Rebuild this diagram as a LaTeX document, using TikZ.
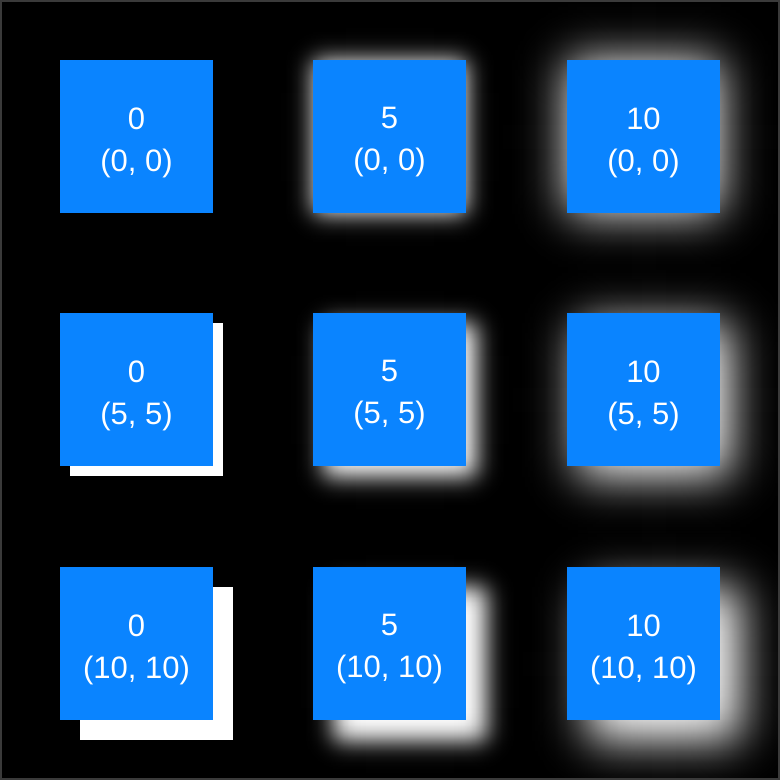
\documentclass[tikz,border=0pt]{standalone}
\usepackage{fontspec}
\usetikzlibrary{fadings}
\setmainfont{Liberation Sans}
\definecolor{sysblue}{HTML}{0A84FF}
\definecolor{framegray}{HTML}{3A3A3A}
% Gaussian CDF levels
\colorlet{ga}{white!0.13!black}
\colorlet{gb}{white!0.62!black}
\colorlet{gc}{white!2.28!black}
\colorlet{gd}{white!6.68!black}
\colorlet{ge}{white!15.87!black}
\colorlet{gf}{white!30.85!black}
\colorlet{gg}{white!50!black}
\colorlet{gh}{white!69.15!black}
\colorlet{gi}{white!84.13!black}
\colorlet{gj}{white!93.32!black}
\colorlet{gk}{white!97.72!black}
\colorlet{gl}{white!99.38!black}
\colorlet{gm}{white!99.87!black}
% blur 10: sigma = 22px
\def\glowspecA{color(0bp)=(black); color(25bp)=(ga); color(26.930bp)=(gb); color(28.860bp)=(gc); color(30.789bp)=(gd); color(32.719bp)=(ge); color(34.649bp)=(gf); color(36.579bp)=(gg); color(38.509bp)=(gh); color(40.439bp)=(gi); color(42.368bp)=(gj); color(44.298bp)=(gk); color(46.228bp)=(gl); color(48.158bp)=(gm); color(50bp)=(white); color(51.842bp)=(gm); color(53.772bp)=(gl); color(55.702bp)=(gk); color(57.632bp)=(gj); color(59.561bp)=(gi); color(61.491bp)=(gh); color(63.421bp)=(gg); color(65.351bp)=(gf); color(67.281bp)=(ge); color(69.211bp)=(gd); color(71.140bp)=(gc); color(73.070bp)=(gb); color(75bp)=(ga); color(100bp)=(black)}
% blur 5: sigma = 11px
\def\glowspecB{color(0bp)=(black); color(25bp)=(ga); color(26.256bp)=(gb); color(27.511bp)=(gc); color(28.767bp)=(gd); color(30.023bp)=(ge); color(31.279bp)=(gf); color(32.534bp)=(gg); color(33.790bp)=(gh); color(35.046bp)=(gi); color(36.301bp)=(gj); color(37.557bp)=(gk); color(38.813bp)=(gl); color(40.068bp)=(gm); color(50bp)=(white); color(59.932bp)=(gm); color(61.187bp)=(gl); color(62.443bp)=(gk); color(63.699bp)=(gj); color(64.954bp)=(gi); color(66.210bp)=(gh); color(67.466bp)=(gg); color(68.721bp)=(gf); color(69.977bp)=(ge); color(71.233bp)=(gd); color(72.489bp)=(gc); color(73.744bp)=(gb); color(75bp)=(ga); color(100bp)=(black)}
\edef\tmp{\noexpand\pgfdeclarehorizontalshading{hglowA}{100bp}{\glowspecA}}\tmp
\edef\tmp{\noexpand\pgfdeclareverticalshading{vglowA}{100bp}{\glowspecA}}\tmp
\edef\tmp{\noexpand\pgfdeclarehorizontalshading{hglowB}{100bp}{\glowspecB}}\tmp
\edef\tmp{\noexpand\pgfdeclareverticalshading{vglowB}{100bp}{\glowspecB}}\tmp
\pgfdeclarefading{fglowA}{\pgfuseshading{vglowA}}
\pgfdeclarefading{fglowB}{\pgfuseshading{vglowB}}
% blurred white shadow: #1 x, #2 y (top-left of box), #3 offset, #4 sigma, #5 A/B
\newcommand\softshadow[5]{%
  \shade[shading=hglow#5, path fading=fglow#5]
    ({#1+#3-3*#4},{#2+#3-3*#4}) rectangle ({#1+#3+153+3*#4},{#2+#3+153+3*#4});
}
\newcommand\hardshadow[3]{%
  \fill[white] ({#1+#3},{#2+#3}) rectangle ({#1+#3+153},{#2+#3+153});
}
\begin{document}
\begin{tikzpicture}[x=1pt,y=-1pt,
  box/.style={fill=sysblue, minimum size=153pt, inner sep=0pt, outer sep=0pt,
    anchor=north west},
  lbl/.style={text=white, align=center, inner sep=0pt,
    font=\fontsize{31}{42}\selectfont}]
\useasboundingbox (0,0) rectangle (780,780);
\clip (0,0) rectangle (780,780);
\fill[black] (0,0) rectangle (780,780);
% shadows
\hardshadow{60}{60}{0}
\softshadow{313}{60}{0}{11}{B}
\softshadow{567}{60}{0}{22}{A}
\hardshadow{60}{313}{10}
\softshadow{313}{313}{10}{11}{B}
\softshadow{567}{313}{10}{22}{A}
\hardshadow{60}{567}{20}
\softshadow{313}{567}{20}{11}{B}
\softshadow{567}{567}{20}{22}{A}
\draw[framegray, line width=2pt] (1,1) rectangle (779,779);
% boxes
\node[box] (b11) at (60,60) {};
\node[box] (b12) at (313,60) {};
\node[box] (b13) at (567,60) {};
\node[box] (b21) at (60,313) {};
\node[box] (b22) at (313,313) {};
\node[box] (b23) at (567,313) {};
\node[box] (b31) at (60,567) {};
\node[box] (b32) at (313,567) {};
\node[box] (b33) at (567,567) {};
% labels
\node[lbl] (t11) at ([yshift=-6pt]b11.center) {0\\(0, 0)};
\node[lbl] (t12) at ([yshift=-6pt]b12.center) {5\\(0, 0)};
\node[lbl] (t13) at ([yshift=-6pt]b13.center) {10\\(0, 0)};
\node[lbl] (t21) at ([yshift=-6pt]b21.center) {0\\(5, 5)};
\node[lbl] (t22) at ([yshift=-6pt]b22.center) {5\\(5, 5)};
\node[lbl] (t23) at ([yshift=-6pt]b23.center) {10\\(5, 5)};
\node[lbl] (t31) at ([yshift=-6pt]b31.center) {0\\(10, 10)};
\node[lbl] (t32) at ([yshift=-6pt]b32.center) {5\\(10, 10)};
\node[lbl] (t33) at ([yshift=-6pt]b33.center) {10\\(10, 10)};
\end{tikzpicture}
\end{document}
